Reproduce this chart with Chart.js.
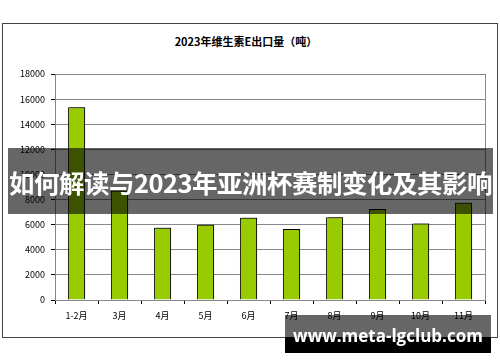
<!DOCTYPE html>
<html>
<head>
<meta charset="utf-8">
<script src="https://cdn.jsdelivr.net/npm/chart.js@4"></script>
<style>
  body { margin: 0; background: #fff; }
  #wrap { position: relative; width: 500px; height: 362px; overflow: hidden; font-family: "Noto Sans CJK SC", sans-serif; }
  #frame { position: absolute; left: 2px; top: 23px; width: 494px; height: 313px; border: 1px solid #444; }
  #title { position: absolute; left: 0; width: 492px; top: 33px; text-align: center; font-size: 11px; font-weight: bold; color: #000; }
  canvas { position: absolute; left: 0; top: 0; }
  #banner { position: absolute; left: 8px; top: 148px; width: 485px; height: 66px; background: rgba(0,0,0,0.6); }
  #banner span { position: absolute; left: 50%; top: 0; transform: translateX(-50%); color: #fff;
                 font-size: 25.5px; font-weight: bold; line-height: 68px; white-space: nowrap; letter-spacing: -0.5px; }
  #mark { position: absolute; left: 285px; top: 315px; width: 206px; height: 38px; color: #fff; font-family: "Open Sans", sans-serif;
          font-size: 17px; font-weight: bold; text-align: center; line-height: 42px; white-space: nowrap; }
  #mark .top { position: absolute; left: 0; top: 0; width: 100%; height: 22px; background: rgba(0,0,0,0.6); }
  #mark .bot { position: absolute; left: 0; top: 22px; width: 100%; height: 16px; background: #000; }
  #mark span { position: relative; }
</style>
</head>
<body>
<div id="wrap">
  <div id="frame"></div>
  <div id="title">2023年维生素E出口量（吨）</div>
  <canvas id="chart" width="500" height="362"></canvas>
  <div id="banner"><span>如何解读与2023年亚洲杯赛制变化及其影响</span></div>
  <div id="mark"><div class="top"></div><div class="bot"></div><span>www.meta-lgclub.com</span></div>
</div>
<script>
// Monthly export volume (tons)
const months = ["1-2月", "3月", "4月", "5月", "6月", "7月", "8月", "9月", "10月", "11月"];
const exports = [15350, 8700, 5750, 6000, 6550, 5650, 6600, 7250, 6100, 7750];
const yTicks = [0, 2000, 4000, 6000, 8000, 10000, 12000, 14000, 16000, 18000];

// gray outline round the plot area, plus a small shadow on the bars
const plotBox = {
  id: "plotBox",
  beforeDatasetsDraw(chart) {
    const a = chart.chartArea, ctx = chart.ctx;
    ctx.save();
    ctx.strokeStyle = "#888";
    ctx.lineWidth = 1;
    ctx.strokeRect(a.left + 0.5, a.top + 0.5, a.right - a.left, a.bottom - a.top);
    ctx.restore();
  },
  beforeDatasetDraw(chart) {
    const ctx = chart.ctx;
    ctx.save();
    ctx.shadowColor = "rgba(0,0,0,0.45)";
    ctx.shadowOffsetX = 2;
    ctx.shadowOffsetY = -2;
  },
  afterDatasetDraw(chart) {
    chart.ctx.restore();
  }
};

const tickFont = { family: "'Noto Sans CJK SC', sans-serif", size: 9 };

new Chart(document.getElementById("chart"), {
  type: "bar",
  data: {
    labels: months,
    datasets: [{
      data: exports,
      backgroundColor: "#99cc00",
      borderColor: "#000",
      borderWidth: 1,
      barPercentage: 0.4,
      categoryPercentage: 1
    }]
  },
  options: {
    responsive: false,
    animation: false,
    layout: { padding: { top: 74, right: 15, left: 0, bottom: 0 } },
    plugins: { legend: { display: false }, tooltip: { enabled: false } },
    scales: {
      x: {
        afterFit: (s) => { s.height = 62; },
        grid: { offset: true, drawOnChartArea: false, drawTicks: true, tickLength: 4, color: "#000" },
        border: { color: "#000" },
        ticks: { color: "#000", font: tickFont, padding: 6 }
      },
      y: {
        min: 0,
        max: 18000,
        afterFit: (s) => { s.width = 55; },
        afterBuildTicks: (s) => { s.ticks = yTicks.map((v) => ({ value: v })); },
        grid: { color: "#888", tickColor: "#000", tickLength: 4 },
        border: { color: "#000" },
        ticks: { color: "#000", font: tickFont, padding: 6, callback: (v) => String(v) }
      }
    }
  },
  plugins: [plotBox]
});
</script>
</body>
</html>
